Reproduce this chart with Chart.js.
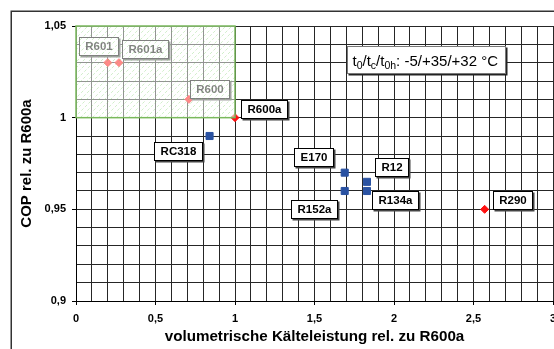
<!DOCTYPE html>
<html>
<head>
<meta charset="utf-8">
<script src="https://cdn.jsdelivr.net/npm/chart.js@4.4.1/dist/chart.umd.min.js"></script>
<style>
  html, body { margin: 0; padding: 0; background: #fff; overflow: hidden; }
  #wrap { width: 554px; height: 349px; overflow: hidden; position: relative; }
  canvas { display: block; }
</style>
</head>
<body>
<div id="wrap"><canvas id="c" width="620" height="400"></canvas></div>
<script>
// Kohlenwasserstoffe (rote Rauten)
const hcNames = ['R601', 'R601a', 'R600', 'R600a', 'R290'];
const hcCapacity = [0.2, 0.27, 0.71, 1.0, 2.57];
const hcCop = [1.03, 1.03, 1.01, 1.0, 0.95];

// übrige Kältemittel (blaue Quadrate)
const otherNames = ['RC318', 'E170', 'R12', 'R134a', 'R152a'];
const otherCapacity = [0.84, 1.69, 1.83, 1.83, 1.69];
const otherCop = [0.99, 0.97, 0.965, 0.96, 0.96];

// Achsenbeschriftungen
const xTickLabels = ['0', '0,5', '1', '1,5', '2', '2,5', '3'];
const yTickLabels = ['0,9', '0,95', '1', '1,05'];
const xTitle = 'volumetrische Kälteleistung rel. zu R600a';
const yTitle = 'COP rel. zu R600a';

// Bereich besser als R600a in beiden Größen (COP und Kälteleistung)
const highlightX = [0, 1];
const highlightY = [1.0, 1.05];

// Betriebsbedingungen: [Text, tiefgestellt?]
const conditionParts = [['t', 0], ['0', 1], ['/t', 0], ['c', 1], ['/t', 0], ['0h', 1], [': -5/+35/+32 °C', 0]];

const FONT = '"Liberation Sans", Arial, sans-serif';

// Lage der Beschriftungskästchen relativ zum Punkt (px)
const labelOffsets = {
  R601: [-9, -17], R601a: [26.5, -14], R600: [21, -10.5], R600a: [29, -8.5],
  RC318: [-32, 14.5], E170: [-31.5, -16], R12: [25, -15], R134a: [28, 9],
  R152a: [-31, 17.5], R290: [27.5, -9]
};

const toPoints = (xs, ys) => xs.map((x, i) => ({ x, y: ys[i] }));

const isStep = (v, base, step) => Math.abs((v - base) / step - Math.round((v - base) / step)) < 1e-6;

const decor = {
  id: 'decor',
  beforeDraw(chart) {
    const c = chart.ctx;
    c.save();
    c.fillStyle = '#fff';
    c.fillRect(0, 0, chart.width, chart.height);
    c.strokeStyle = '#333';
    c.lineWidth = 1.5;
    c.strokeRect(11.25, 11.25, chart.width, chart.height);
    c.restore();
  },
  afterDatasetsDraw(chart) {
    const c = chart.ctx;
    // Beschriftungen der Punkte
    c.save();
    c.font = 'bold 11.5px ' + FONT;
    c.textAlign = 'center';
    c.textBaseline = 'middle';
    chart.data.datasets.forEach((ds, di) => {
      const meta = chart.getDatasetMeta(di);
      meta.data.forEach((el, i) => {
        const name = ds.names[i];
        const off = labelOffsets[name] || [20, -10];
        const cx = el.x + off[0], cy = el.y + off[1];
        const w = Math.round(c.measureText(name).width + 12), h = 18;
        const bx = Math.round(cx - w / 2) + 0.5, by = Math.round(cy - h / 2) + 0.5;
        c.fillStyle = '#444';
        c.fillRect(bx + 1, by + 1, w + 1, h + 1);
        c.fillStyle = '#fff';
        c.fillRect(bx, by, w, h);
        c.strokeStyle = '#000';
        c.lineWidth = 1;
        c.strokeRect(bx, by, w, h);
        c.fillStyle = '#000';
        c.fillText(name, bx + w / 2, by + h / 2 + 0.5);
      });
    });
    c.restore();

    // hervorgehobener Bereich
    const xs = chart.scales.x, ys = chart.scales.y;
    const l = xs.getPixelForValue(highlightX[0]), r = xs.getPixelForValue(highlightX[1]);
    const t = ys.getPixelForValue(highlightY[1]), b = ys.getPixelForValue(highlightY[0]);
    c.save();
    c.beginPath();
    c.rect(l, t, r - l, b - t);
    c.clip();
    c.fillStyle = 'rgba(255,255,255,0.5)';
    c.fillRect(l, t, r - l, b - t);
    c.strokeStyle = 'rgba(120,205,100,0.35)';
    c.lineWidth = 1;
    c.setLineDash([3, 2]);
    for (let k = -(b - t); k < (r - l); k += 6) {
      c.beginPath();
      c.moveTo(l + k, b);
      c.lineTo(l + k + (b - t), t);
      c.stroke();
    }
    c.restore();
    c.save();
    c.strokeStyle = '#7ab95c';
    c.lineWidth = 1.5;
    c.strokeRect(l, t, r - l, b - t);
    c.restore();

    // Kasten mit Betriebsbedingungen
    const area = chart.chartArea;
    const ax = Math.round(area.left + 271) + 0.5, ay = Math.round(area.top + 20) + 0.5;
    c.save();
    const mainFont = '15px ' + FONT, subFont = '10.5px ' + FONT;
    let tw = 0;
    conditionParts.forEach(([s, sub]) => { c.font = sub ? subFont : mainFont; tw += c.measureText(s).width; });
    const bw = Math.round(tw + 12), bh = 27;
    c.fillStyle = '#222';
    c.fillRect(ax + 1, ay + 1, bw + 1, bh + 1);
    c.fillStyle = '#fff';
    c.fillRect(ax, ay, bw, bh);
    c.strokeStyle = '#777';
    c.lineWidth = 1;
    c.strokeRect(ax, ay, bw, bh);
    c.fillStyle = '#000';
    c.textBaseline = 'alphabetic';
    c.textAlign = 'left';
    let px = ax + 5;
    const base = ay + 19;
    conditionParts.forEach(([s, sub]) => {
      c.font = sub ? subFont : mainFont;
      c.fillText(s, px, sub ? base + 3 : base);
      px += c.measureText(s).width;
    });
    c.restore();
  }
};

new Chart(document.getElementById('c'), {
  type: 'scatter',
  data: {
    datasets: [
      {
        label: 'Kohlenwasserstoffe',
        names: hcNames,
        data: toPoints(hcCapacity, hcCop),
        pointStyle: 'rectRot',
        pointRadius: 4,
        pointHoverRadius: 4,
        backgroundColor: '#ff1010',
        borderColor: '#ff1010',
        borderWidth: 1
      },
      {
        label: 'andere',
        names: otherNames,
        data: toPoints(otherCapacity, otherCop),
        pointStyle: 'rect',
        pointRadius: 5,
        pointHoverRadius: 5,
        backgroundColor: '#2a52a2',
        borderColor: '#2a52a2',
        borderWidth: 1
      }
    ]
  },
  options: {
    responsive: false,
    animation: false,
    devicePixelRatio: 1,
    layout: { padding: { left: 0, top: 26, right: 67, bottom: 0 } },
    plugins: { legend: { display: false }, tooltip: { enabled: false } },
    scales: {
      x: {
        type: 'linear',
        min: 0, max: 3,
        afterFit(s) { s.height = 99; },
        ticks: {
          stepSize: 0.1,
          autoSkip: false,
          maxRotation: 0,
          padding: 7,
          color: '#000',
          font: { family: FONT, size: 11, weight: 'bold' },
          callback: v => isStep(v, 0, 0.5) ? xTickLabels[Math.round(v / 0.5)] : ''
        },
        grid: {
          color: '#262626',
          lineWidth: 1,
          tickLength: 4,
          tickColor: ctx => (ctx.tick && isStep(ctx.tick.value, 0, 0.5)) ? '#000' : 'rgba(0,0,0,0)'
        },
        border: { display: true, color: '#000', width: 1 },
        title: {
          display: true,
          text: xTitle,
          color: '#000',
          font: { family: FONT, size: 15.2, weight: 'bold' },
          padding: { top: 0, bottom: 54 }
        }
      },
      y: {
        type: 'linear',
        min: 0.9, max: 1.05,
        afterFit(s) { s.width = 76; },
        ticks: {
          stepSize: 0.01,
          autoSkip: false,
          padding: 6,
          color: '#000',
          font: { family: FONT, size: 11, weight: 'bold' },
          callback: v => isStep(v, 0.9, 0.05) ? yTickLabels[Math.round((v - 0.9) / 0.05)] : ''
        },
        grid: {
          color: '#262626',
          lineWidth: 1,
          tickLength: 4,
          tickColor: ctx => (ctx.tick && isStep(ctx.tick.value, 0.9, 0.05)) ? '#000' : 'rgba(0,0,0,0)'
        },
        border: { display: true, color: '#000', width: 1 },
        title: {
          display: true,
          text: yTitle,
          color: '#000',
          font: { family: FONT, size: 15, weight: 'bold' },
          padding: { top: 18, bottom: 0 }
        }
      }
    }
  },
  plugins: [decor]
});
</script>
</body>
</html>
